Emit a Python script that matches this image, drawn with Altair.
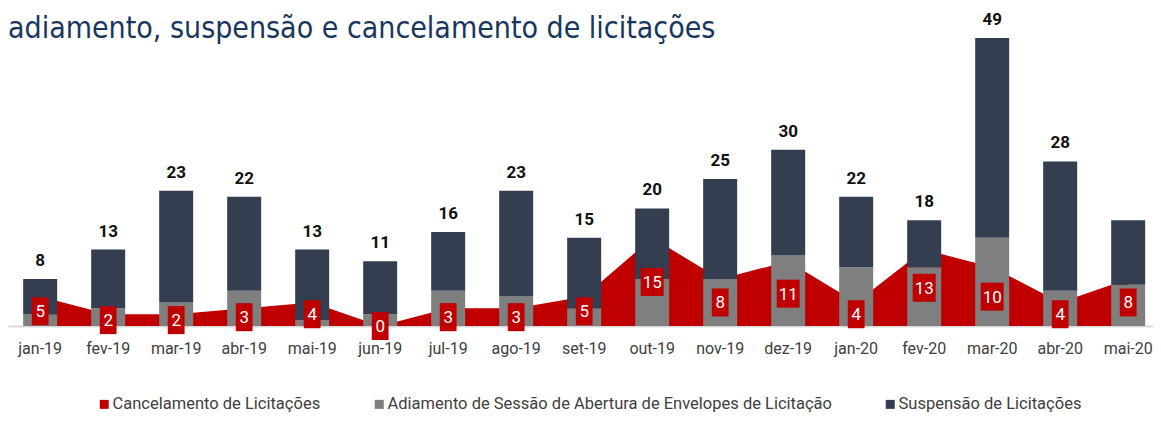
import altair as alt
import pandas as pd

meses = ["jan-19", "fev-19", "mar-19", "abr-19", "mai-19", "jun-19", "jul-19", "ago-19",
         "set-19", "out-19", "nov-19", "dez-19", "jan-20", "fev-20", "mar-20", "abr-20", "mai-20"]
cancelamento = [5, 2, 2, 3, 4, 0, 3, 3, 5, 15, 8, 11, 4, 13, 10, 4, 8]
adiamento = [2, 3, 4, 6, 1, 2, 6, 5, 3, 8, 8, 12, 10, 10, 15, 6, 7]
suspensao = [6, 10, 19, 16, 12, 9, 10, 18, 12, 12, 17, 18, 12, 8, 34, 22, 11]
rotulo_total = ["8", "13", "23", "22", "13", "11", "16", "23", "15", "20", "25", "30", "22", "18", "49", "28", ""]

S_CANC = "Cancelamento de Licitações"
S_ADIA = "Adiamento de Sessão de Abertura de Envelopes de Licitação"
S_SUSP = "Suspensão de Licitações"
series = [S_CANC, S_ADIA, S_SUSP]
cores = ["#C00000", "#7F7F7F", "#333F50"]

df_canc = pd.DataFrame({"mes": meses, "valor": cancelamento, "serie": S_CANC})
df_canc["meio"] = df_canc["valor"] / 2
df_canc["txt"] = df_canc["valor"].astype(str)
df_canc["largo"] = df_canc["valor"] >= 10

df_bar = pd.concat([
    pd.DataFrame({"mes": meses, "valor": adiamento, "serie": S_ADIA, "ordem": 0}),
    pd.DataFrame({"mes": meses, "valor": suspensao, "serie": S_SUSP, "ordem": 1}),
])

df_tot = pd.DataFrame({"mes": meses,
                       "total": [a + s for a, s in zip(adiamento, suspensao)],
                       "rot": rotulo_total})

xenc = alt.X("mes:N", sort=meses, title=None,
             scale=alt.Scale(paddingInner=0.5, paddingOuter=0.169, align=0.66),
             axis=alt.Axis(labelFont="Roboto", labelFontSize=16, labelColor="#404040",
                           labelAngle=0, ticks=False, domainColor="#D9D9D9", domainWidth=2,
                           labelPadding=14, grid=False))
yscale = alt.Scale(domain=[0, 49], nice=False, zero=True)
color = alt.Color("serie:N", scale=alt.Scale(domain=series, range=cores),
                  sort=series,
                  legend=alt.Legend(title=None, orient="none", legendX=88, legendY=358,
                                    direction="horizontal", symbolType="square",
                                    symbolSize=81, symbolStrokeWidth=0,
                                    labelFont="Roboto", labelFontSize=16.5,
                                    labelColor="#404040", columnPadding=50,
                                    labelOffset=0, labelLimit=600))

area = alt.Chart(df_canc).mark_area(opacity=1, interpolate="linear").encode(
    x=xenc,
    y=alt.Y("valor:Q", scale=yscale, axis=None, stack=None),
    color=color,
)

bars = alt.Chart(df_bar).mark_bar(opacity=1).encode(
    x=xenc,
    y=alt.Y("valor:Q", scale=yscale, axis=None, stack="zero"),
    color=color,
    order=alt.Order("ordem:Q", sort="ascending"),
)

box_narrow = alt.Chart(df_canc).transform_filter("!datum.largo").mark_point(
    shape="M-0.6,-1H0.6V1H-0.6Z", filled=True, opacity=1, color="#C00000", size=784
).encode(x=xenc, y=alt.Y("meio:Q", scale=yscale, axis=None))

box_wide = alt.Chart(df_canc).transform_filter("datum.largo").mark_point(
    shape="M-0.82,-1H0.82V1H-0.82Z", filled=True, opacity=1, color="#C00000", size=784
).encode(x=xenc, y=alt.Y("meio:Q", scale=yscale, axis=None))

box_text = alt.Chart(df_canc).mark_text(
    font="Roboto", fontSize=17, color="white", baseline="middle", dy=1
).encode(x=xenc, y=alt.Y("meio:Q", scale=yscale, axis=None), text="txt:N")

tot_text = alt.Chart(df_tot).mark_text(
    font="Roboto", fontWeight="bold", fontSize=17, color="#111111",
    baseline="alphabetic", dy=-13
).encode(x=xenc, y=alt.Y("total:Q", scale=yscale, axis=None), text="rot:N")

chart = alt.layer(area, bars, box_narrow, box_wide, box_text, tot_text).properties(
    width=1145, height=288,
    padding={"left": 0, "right": 0, "top": 30, "bottom": 87},
    autosize=alt.AutoSizeParams(type="none"),
    title=alt.TitleParams(
        "adiamento, suspensão e cancelamento de licitações",
        anchor="start", orient="top", font="'DejaVu Sans Condensed', Roboto", fontSize=30,
        fontWeight="normal", color="#17375E", baseline="alphabetic", offset=0, dy=57,
        frame="group"),
).configure_view(stroke=None)

chart.save("out.html", embed_options={"renderer": "svg", "actions": False})
